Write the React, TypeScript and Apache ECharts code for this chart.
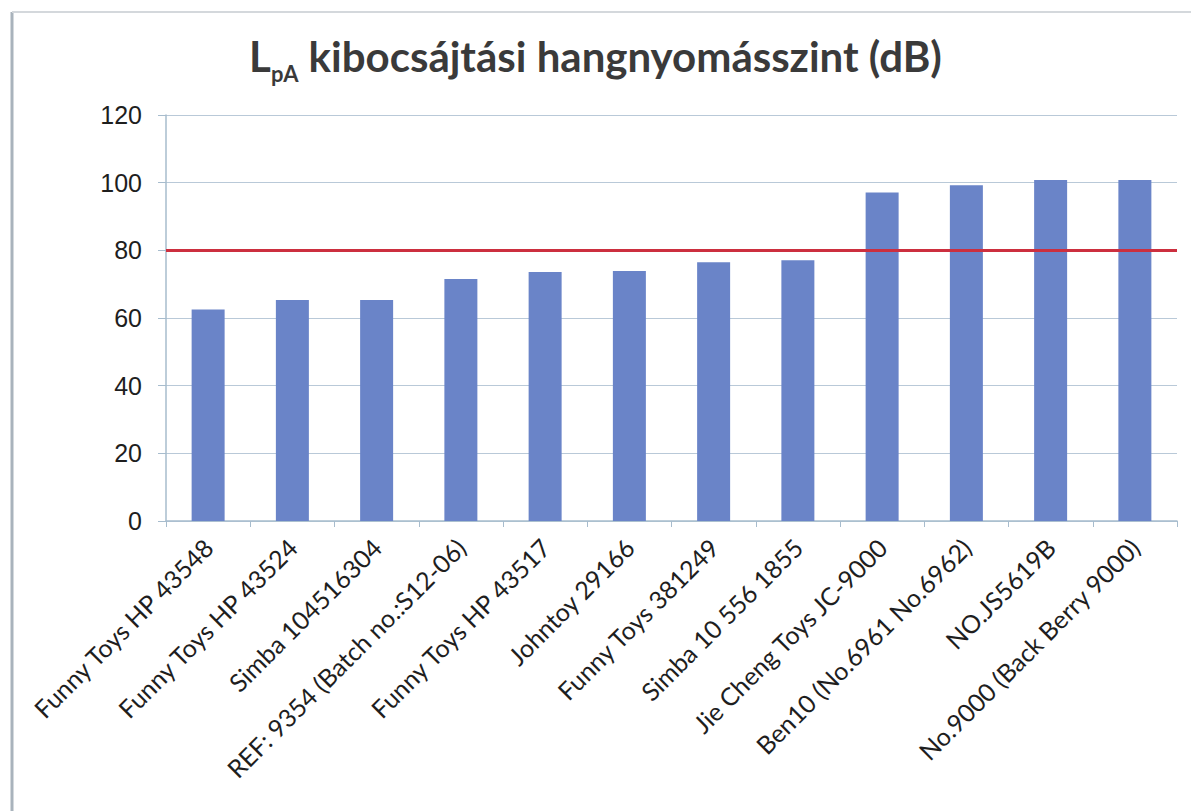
import React, { useEffect, useRef } from "react";
import * as echarts from "echarts";

const categories: string[] = [
  "Funny Toys HP 43548",
  "Funny Toys HP 43524",
  "Simba 104516304",
  "REF: 9354 (Batch no.:S12-06)",
  "Funny Toys HP 43517",
  "Johntoy 29166",
  "Funny Toys 381249",
  "Simba 10 556 1855",
  "Jie Cheng Toys JC-9000",
  "Ben10 (No.6961 No.6962)",
  "NO.JS5619B",
  "No.9000 (Back Berry 9000)",
];

const lpaValues: number[] = [62.5, 65.3, 65.3, 71.5, 73.6, 73.9, 76.5, 77.1, 97.1, 99.2, 100.8, 100.8];

const limitValue = 80;
const yTicks = { min: 0, max: 120, interval: 20 };

export default function App() {
  const ref = useRef<HTMLDivElement>(null);

  useEffect(() => {
    if (!ref.current) return;
    const chart = echarts.init(ref.current, undefined, { renderer: "svg" });
    chart.setOption({
      animation: false,
      backgroundColor: "#ffffff",
      title: {
        text: "{a|L}{b|pA}{a| kibocsájtási hangnyomásszint (dB)}",
        left: "center",
        top: 26,
        textStyle: {
          rich: {
            a: {
              fontFamily: "Lato",
              fontWeight: "bold",
              fontSize: 42,
              color: "#3a3a3a",
              lineHeight: 50,
            },
            b: {
              fontFamily: "Lato",
              fontWeight: "bold",
              fontSize: 22,
              color: "#3a3a3a",
              lineHeight: 22,
              verticalAlign: "bottom",
              padding: [0, 0, -3, 0],
            },
          },
        },
      },
      graphic: [
        {
          type: "line",
          shape: { x1: 12, y1: 12, x2: 12, y2: 811 },
          style: { stroke: "#a9b3bc", lineWidth: 3 },
        },
        {
          type: "line",
          shape: { x1: 12, y1: 12, x2: 1191, y2: 12 },
          style: { stroke: "#d4d8dc", lineWidth: 2 },
        },
      ],
      grid: { left: 166, right: 14, top: 115, bottom: 290, containLabel: false },
      xAxis: {
        type: "category",
        data: categories,
        boundaryGap: true,
        axisLine: { show: true, lineStyle: { color: "#a7bccd", width: 1.5 } },
        axisTick: { show: true, length: 6, alignWithLabel: false, lineStyle: { color: "#a7bccd" } },
        axisLabel: {
          interval: 0,
          rotate: 45,
          margin: 22,
          fontFamily: "Lato",
          fontSize: 25,
          color: "#1e1e1e",
        },
      },
      yAxis: {
        type: "value",
        min: yTicks.min,
        max: yTicks.max,
        interval: yTicks.interval,
        axisLine: { show: true, lineStyle: { color: "#a7bccd", width: 1.5 } },
        axisTick: { show: true, length: 8, lineStyle: { color: "#a7bccd" } },
        splitLine: { show: true, lineStyle: { color: "#b9c9d8", width: 1.2 } },
        axisLabel: {
          margin: 24,
          fontFamily: "Liberation Sans",
          fontSize: 25,
          color: "#1e1e1e",
        },
      },
      series: [
        {
          type: "bar",
          data: lpaValues,
          barWidth: 33,
          itemStyle: { color: "#6a84c8" },
          markLine: {
            silent: true,
            symbol: "none",
            label: { show: false },
            lineStyle: { color: "#cc2f3f", width: 3, type: "solid" },
            data: [{ yAxis: limitValue }],
          },
        },
      ],
    });
    return () => chart.dispose();
  }, []);

  return (
    <div
      ref={ref}
      style={{ position: "fixed", left: 0, top: 0, width: 1191, height: 811 }}
    />
  );
}
